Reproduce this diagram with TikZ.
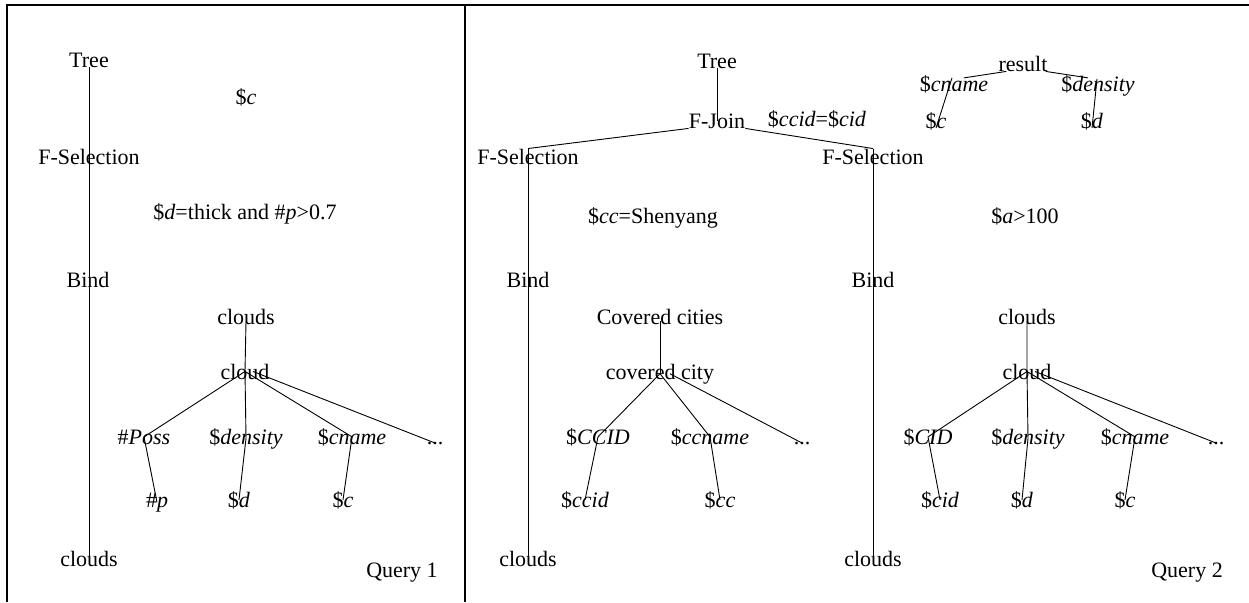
\documentclass[tikz,border=0pt]{standalone}
\usepackage{fontspec}
\setmainfont{Liberation Serif}
\begin{document}
\begin{tikzpicture}[x=1pt,y=-1pt,
  lbl/.style={inner sep=0pt, anchor=base, font=\fontsize{22pt}{24pt}\selectfont},
  edge/.style={draw, line width=0.9pt},
  frame/.style={draw, line width=1.1pt}]
\useasboundingbox (0,0) rectangle (1249,602);
% frame
\draw[frame] (7,602) -- (7,5) -- (1249,5);
\draw[frame] (465,5) -- (465,602);

% ---------- Query 1 ----------
\node[lbl] (tree1) at (89,67) {Tree};
\node[lbl] (c1) at (246,104) {\$\textit{c}};
\node[lbl] (fsel1) at (89,164) {F-Selection};
\node[lbl] (cond1) at (245,219) {\$\textit{d}=thick and \#\textit{p}>0.7};
\node[lbl] (bind1) at (88,287) {Bind};
\node[lbl] (cls1) at (246,324) {clouds};
\node[lbl] (cl1) at (245,379) {cloud};
\node[lbl] (poss1) at (144,444) {\#\textit{Poss}};
\node[lbl] (den1) at (246,444) {\$\textit{density}};
\node[lbl] (cn1) at (352,444) {\$\textit{cname}};
\node[lbl] (dots1) at (435,444) {...};
\node[lbl] (p1) at (157,507) {\#\textit{p}};
\node[lbl] (d1) at (239,507) {\$\textit{d}};
\node[lbl] (cc1) at (343,507) {\$\textit{c}};
\node[lbl] (cb1) at (89,566) {clouds};
\node[lbl] (q1) at (402,577) {Query 1};

\draw[edge] (tree1.south) -- (cb1.center);
\draw[edge] ([yshift=-5pt]cls1.center) -- (cl1.center) -- (den1.center) -- (d1.center);
\draw[edge] (cl1.center) -- (poss1.center) -- (p1.center);
\draw[edge] (cl1.center) -- (cn1.center) -- (cc1.center);
\draw[edge] ([xshift=8pt]cl1.center) -- (dots1.center);

% ---------- Query 2 ----------
\node[lbl] (tree2) at (717,68) {Tree};
\node[lbl] (fj) at (717,128) {F-Join};
\node[lbl] (jc) at (817,126) {\$\textit{ccid}=\$\textit{cid}};
\node[lbl] (fsel2) at (528,164) {F-Selection};
\node[lbl] (fsel3) at (873,164) {F-Selection};
\node[lbl] (cond2) at (653,223) {\$\textit{cc}=Shenyang};
\node[lbl] (cond3) at (1025,223) {\$\textit{a}>100};
\node[lbl] (bind2) at (528,287) {Bind};
\node[lbl] (bind3) at (873,287) {Bind};
\node[lbl] (cb2) at (528,566) {clouds};
\node[lbl] (cb3) at (873,566) {clouds};
\node[lbl] (q2) at (1187,577) {Query 2};

% left subtree
\node[lbl] (cc2) at (660,324) {Covered cities};
\node[lbl] (city2) at (660,379) {covered city};
\node[lbl] (ccidU) at (598,444) {\$\textit{CCID}};
\node[lbl] (ccname) at (710,444) {\$\textit{ccname}};
\node[lbl] (dots2) at (802,444) {...};
\node[lbl] (ccidl) at (585,507) {\$\textit{ccid}};
\node[lbl] (ccl) at (720,507) {\$\textit{cc}};

% right subtree
\node[lbl] (cls3) at (1027,324) {clouds};
\node[lbl] (cl3) at (1027,379) {cloud};
\node[lbl] (cid) at (928,444) {\$\textit{CID}};
\node[lbl] (den3) at (1028,444) {\$\textit{density}};
\node[lbl] (cn3) at (1135,444) {\$\textit{cname}};
\node[lbl] (dots3) at (1216,444) {...};
\node[lbl] (cidl) at (940,507) {\$\textit{cid}};
\node[lbl] (d3) at (1022,507) {\$\textit{d}};
\node[lbl] (c3) at (1125,507) {\$\textit{c}};

% result tree
\node[lbl] (res) at (1023,71) {result};
\node[lbl] (rcn) at (954,91) {\$\textit{cname}};
\node[lbl] (rden) at (1098,91) {\$\textit{density}};
\node[lbl] (rc) at (936,128) {\$\textit{c}};
\node[lbl] (rd) at (1092,128) {\$\textit{d}};

\draw[edge] (tree2.south) -- (fj.center);
\draw[edge] (fj.south west) -- (fsel2.north);
\draw[edge] (fj.south east) -- (fsel3.north);
\draw[edge] (fsel2.north) -- (cb2.center);
\draw[edge] (fsel3.north) -- (cb3.center);

\draw[edge] ([yshift=-5pt]cc2.center) -- (city2.center);
\draw[edge] (city2.center) -- (ccidU.center) -- (ccidl.center);
\draw[edge] (city2.center) -- (ccname.center) -- (ccl.center);
\draw[edge] ([xshift=10pt]city2.center) -- (dots2.center);

\draw[edge] ([yshift=-5pt]cls3.center) -- (cl3.center) -- (den3.center) -- (d3.center);
\draw[edge] (cl3.center) -- (cid.center) -- (cidl.center);
\draw[edge] (cl3.center) -- (cn3.center) -- (c3.center);
\draw[edge] ([xshift=8pt]cl3.center) -- (dots3.center);

\draw[edge] ([xshift=8pt]res.south west) -- ([xshift=10pt,yshift=-3pt]rcn.north);
\draw[edge] ([xshift=-2pt,yshift=-3pt]rcn.north) -- (rc.base);
\draw[edge] ([xshift=-2pt]res.south east) -- ([xshift=-10pt,yshift=-3pt]rden.north);
\draw[edge] ([xshift=-1pt,yshift=-4pt]rden.north) -- (rd.base);
\end{tikzpicture}
\end{document}
